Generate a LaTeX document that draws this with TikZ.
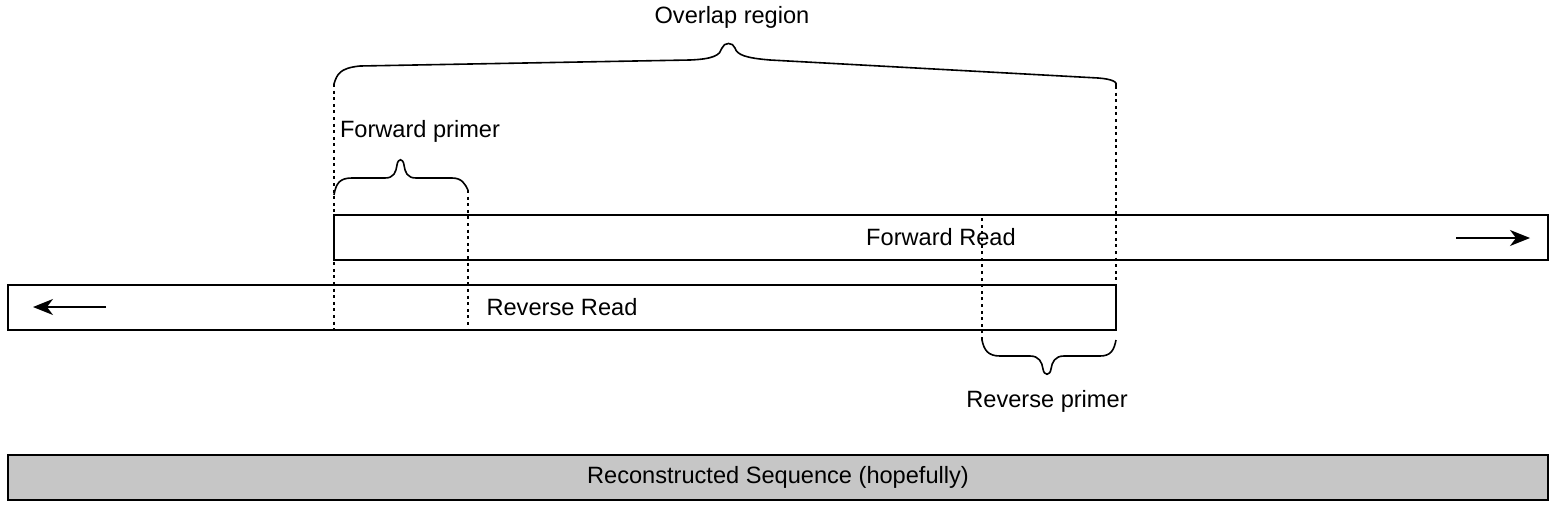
\documentclass[tikz,border=0pt]{standalone}
\usepackage{fontspec}
\setmainfont{Liberation Sans}
\usepackage{tikz}
\usetikzlibrary{positioning, arrows.meta}

\tikzset{
  readbox/.style={draw=black, line width=0.75pt, minimum height=22.5pt, inner sep=0pt, outer sep=0pt},
  guide/.style={black, line width=0.6pt, dash pattern=on 1.5pt off 1.8pt},
  bracket/.style={black, line width=0.8pt},
  dirarrow/.style={black, line width=0.75pt, -{Stealth[length=10pt, width=8pt, inset=3pt]}},
  lbl/.style={inner sep=0pt}
}

\begin{document}
\begin{tikzpicture}[x=0.5pt, y=-0.5pt, font=\fontsize{11.8}{14}\selectfont]
  \useasboundingbox (0,0) rectangle (1554,504);

  % reads
  \node[readbox, minimum width=607pt] (fwd) at (941,237.5) {Forward Read};
  \node[readbox, minimum width=554pt] (rev) at (562,307.5) {Reverse Read};
  \node[readbox, minimum width=770pt, fill={rgb,255:red,198;green,198;blue,198}] (recon) at (778,477.5) {Reconstructed Sequence (hopefully)};

  % direction arrows
  \coordinate (fwdA) at (1456,238);
  \coordinate (fwdB) at (1530,238);
  \coordinate (revA) at (106,307);
  \coordinate (revB) at (33,307);
  \draw[dirarrow] (fwdA) -- (fwdB);
  \draw[dirarrow] (revA) -- (revB);

  % brace ends
  \coordinate (ovlL) at (334,84);
  \coordinate (ovlR) at (1116,86);
  \coordinate (fpL) at (334,195);
  \coordinate (fpR) at (468,190);
  \coordinate (rpL) at (982,340);
  \coordinate (rpR) at (1116,340);

  % overlap region
  \draw[bracket] (ovlL) .. controls (337,74) and (340,68) .. (360,66)
     -- (690,60) .. controls (714,59) and (720,55) .. (722,48)
     .. controls (724,42) and (733,42) .. (735,48)
     .. controls (737,55) and (746,58) .. (770,60)
     -- (1098,78) .. controls (1112,79) and (1118,82) .. (ovlR);
  \node[lbl] (ovlText) at (732,17) {Overlap region};

  % forward primer
  \draw[bracket] (fpL) .. controls (336,183) and (340,178) .. (352,178)
     -- (385,178) .. controls (394,178) and (396,172) .. (397,165)
     .. controls (398,158) and (403,158) .. (404,165)
     .. controls (405,172) and (407,178) .. (416,178)
     -- (452,178) .. controls (462,178) and (465,184) .. (fpR);
  \node[lbl] (fpText) at (420,131) {Forward primer};

  % reverse primer
  \draw[bracket] (rpL) .. controls (984,350) and (988,356) .. (1000,356)
     -- (1030,356) .. controls (1039,356) and (1042,362) .. (1043,369)
     .. controls (1044,376) and (1050,376) .. (1051,369)
     .. controls (1052,362) and (1055,356) .. (1064,356)
     -- (1100,356) .. controls (1111,356) and (1114,350) .. (rpR);
  \node[lbl] (rpText) at (1047,401) {Reverse primer};

  % guides
  \draw[guide] (ovlL) -- (ovlL |- rev.south);
  \draw[guide] (ovlR) -- (rev.north east);
  \draw[guide] (fpR) -- (fpR |- rev.south);
  \draw[guide] (rpL) -- (rpL |- fwd.north);
\end{tikzpicture}
\end{document}
